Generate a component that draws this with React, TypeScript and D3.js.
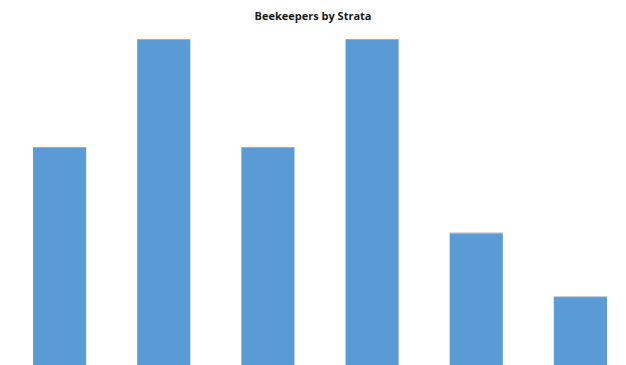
import React from "react";
import * as d3 from "d3";

const categories = ["Stratum 1", "Stratum 2", "Stratum 3", "Stratum 4", "Stratum 5", "Stratum 6"];
const beekeepers = [40, 50, 40, 50, 32.1, 26.2];
const titleText = "Beekeepers by Strata";

const W = 626;
const H = 365;

export default function App() {
  const x = d3.scaleBand<string>().domain(categories).range([7.5, 632.5]).paddingInner(0.49).paddingOuter(0.245);
  const y = d3.scaleLinear().domain([0, 50]).range([580, 40]);
  return (
    <div style={{ position: "fixed", left: 0, top: 0 }}>
      <svg width={W} height={H} style={{ display: "block", background: "#fff" }}>
        <rect x={0} y={0} width={W} height={H} fill="#fff" />
        {categories.map((c, i) => (
          <g key={c}>
            <rect
              x={x(c)}
              y={y(beekeepers[i])}
              width={x.bandwidth()}
              height={y(0) - y(beekeepers[i])}
              fill="#5b9bd5"
            />
            <line
              x1={x(c)}
              x2={(x(c) as number) + x.bandwidth()}
              y1={y(beekeepers[i]) - 0.5}
              y2={y(beekeepers[i]) - 0.5}
              stroke="#ef9a5a"
              strokeWidth={1.2}
              opacity={i < 4 ? 1 : 0.6}
            />
          </g>
        ))}
        <text
          x={W / 2}
          y={20}
          textAnchor="middle"
          fontFamily="'Open Sans', sans-serif"
          fontWeight="bold"
          fontSize={11}
          fill="#1a1a1a"
        >
          {titleText}
        </text>
      </svg>
    </div>
  );
}
